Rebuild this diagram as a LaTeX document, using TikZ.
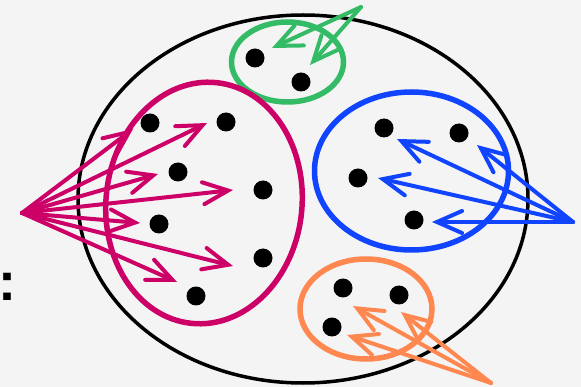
\documentclass[tikz,border=0pt]{standalone}
\usepackage{fontspec}
\newfontfamily\colonfont{Liberation Sans}
\usetikzlibrary{arrows.meta}
\definecolor{bgc}{HTML}{F4F4F4}
\definecolor{magc}{HTML}{CC0066}
\definecolor{grnc}{HTML}{33BB66}
\definecolor{bluc}{HTML}{1144FF}
\definecolor{orac}{HTML}{FF8850}
\tikzset{
  dot/.style={circle,fill=black,inner sep=0pt,minimum width=19pt,minimum height=18pt},
  group/.style={line width=5.5pt},
  maparrow/.style={line width=4pt,line cap=round,line join=round,
    -{Straight Barb[length=25pt,width=22pt,line cap=round]}},
}
\begin{document}
\begin{tikzpicture}[x=1pt,y=-1pt]
\useasboundingbox (0,0) rectangle (581,387);
\fill[bgc] (0,0) rectangle (581,387);
% outer set
\coordinate (outer) at (303,199);
\draw[line width=3.5pt] (outer) ellipse [x radius=225pt, y radius=184pt];
% groups
\coordinate (gc) at (287.5,62);
\coordinate (mc) at (204,203);
\coordinate (bc) at (411.5,171);
\coordinate (oc) at (366,309);
\draw[group,grnc] (gc) ellipse [x radius=56pt, y radius=40pt];
\draw[group,magc] (mc) ellipse [x radius=98pt, y radius=121pt, rotate=-6];
\draw[group,bluc] (bc) ellipse [x radius=97pt, y radius=79pt];
\draw[group,orac] (oc) ellipse [x radius=66pt, y radius=50pt];
% dots
\node[dot] (g1) at (255,58) {};
\node[dot] (g2) at (301,82) {};
\node[dot] (m1) at (150,123) {};
\node[dot] (m2) at (226,122) {};
\node[dot] (m3) at (178,172) {};
\node[dot] (m4) at (263,190) {};
\node[dot] (m5) at (159,224) {};
\node[dot] (m6) at (263,258) {};
\node[dot] (m7) at (196,296) {};
\node[dot] (b1) at (384,128) {};
\node[dot] (b2) at (459,133) {};
\node[dot] (b3) at (358,178) {};
\node[dot] (b4) at (414,220) {};
\node[dot] (o1) at (343,288) {};
\node[dot] (o2) at (399,295) {};
\node[dot] (o3) at (332,327) {};
% sources
\coordinate (gs) at (361,7);
\coordinate (ms) at (22,213);
\coordinate (bs) at (573,222);
\coordinate (os) at (491,383);
% tips
\coordinate (gt1) at (272,48);
\coordinate (gt2) at (310,65);
\coordinate (mt1) at (133,129);
\coordinate (mt2) at (207,123);
\coordinate (mt3) at (158,174);
\coordinate (mt4) at (233,190);
\coordinate (mt5) at (140,223);
\coordinate (mt6) at (233,266);
\coordinate (mt7) at (177,282);
\coordinate (bt1) at (397,139);
\coordinate (bt2) at (378,178);
\coordinate (bt3) at (432,222);
\coordinate (bt4) at (477,145);
\coordinate (ot1) at (353,306);
\coordinate (ot2) at (347,335);
\coordinate (ot3) at (401,312);
% arrows
\foreach \t in {gt1,gt2} \draw[maparrow,grnc] (gs) -- (\t);
\foreach \t in {mt1,mt2,mt3,mt4,mt5,mt6,mt7} \draw[maparrow,magc] (ms) -- (\t);
\foreach \t in {bt1,bt2,bt3,bt4} \draw[maparrow,bluc] (bs) -- (\t);
\foreach \t in {ot1,ot2,ot3} \draw[maparrow,orac] (os) -- (\t);
% colon
\node[inner sep=0pt] (colon) at (7.5,287) {\colonfont\bfseries\fontsize{54}{54}\selectfont :};
\end{tikzpicture}
\end{document}
